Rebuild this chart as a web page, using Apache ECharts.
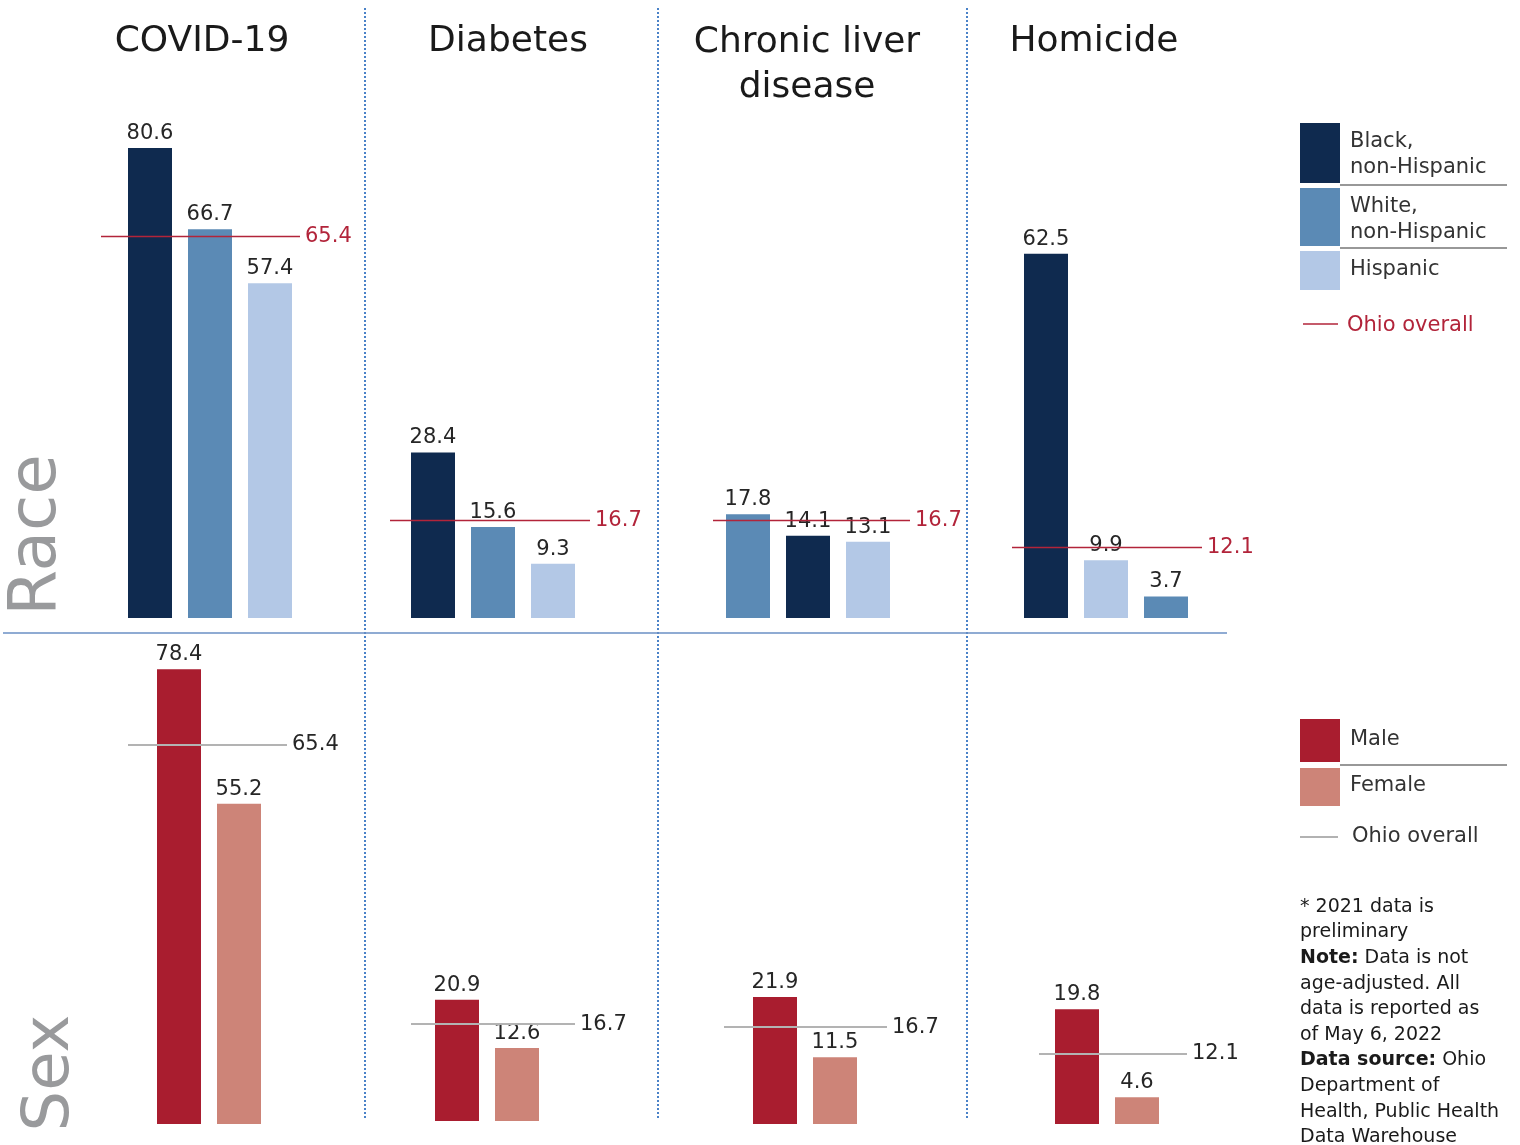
<!DOCTYPE html>
<html>
<head>
<meta charset="utf-8">
<script src="https://cdn.jsdelivr.net/npm/echarts@6/dist/echarts.min.js"></script>
<style>
html,body{margin:0;padding:0;background:#fff;}
#chart{width:1520px;height:1145px;}
</style>
</head>
<body>
<div id="chart"></div>
<script>
// ---------- DATA ----------
const causes = ['COVID-19', 'Diabetes', 'Chronic liver\ndisease', 'Homicide'];
const raceGroups = ['Black, non-Hispanic', 'White, non-Hispanic', 'Hispanic'];
const raceOrder = [
  ['Black, non-Hispanic', 'White, non-Hispanic', 'Hispanic'],
  ['Black, non-Hispanic', 'White, non-Hispanic', 'Hispanic'],
  ['White, non-Hispanic', 'Black, non-Hispanic', 'Hispanic'],
  ['Black, non-Hispanic', 'Hispanic', 'White, non-Hispanic']
];
const raceRates = [
  [80.6, 66.7, 57.4],
  [28.4, 15.6, 9.3],
  [17.8, 14.1, 13.1],
  [62.5, 9.9, 3.7]
];
const sexGroups = ['Male', 'Female'];
const sexRates = [
  [78.4, 55.2],
  [20.9, 12.6],
  [21.9, 11.5],
  [19.8, 4.6]
];
const ohioOverall = [65.4, 16.7, 16.7, 12.1];
const notesLines = [
  '* 2021 data is', 'preliminary',
  '{b|Note:} Data is not', 'age-adjusted. All', 'data is reported as', 'of May 6, 2022',
  '{b|Data source:} Ohio', 'Department of', 'Health, Public Health', 'Data Warehouse'
];

// ---------- STYLE / LAYOUT ----------
const FONT = 'DejaVu Sans';
const groupColor = {
  'Black, non-Hispanic': '#0f2a4f',
  'White, non-Hispanic': '#5b8ab5',
  'Hispanic': '#b3c8e6',
  'Male': '#a91d2f',
  'Female': '#cd8478'
};
const RED = '#b2243a';
const TXT = '#262626';
const STEP = 60;        // px between bar centres
const BARW = 44;
// first bar centre, overall line start/end (px)
const raceLayout = [
  {c: 150, l: 101, r: 300},
  {c: 433, l: 390, r: 590},
  {c: 748, l: 713, r: 910},
  {c: 1046, l: 1012, r: 1202}
];
const sexLayout = [
  {c: 179, l: 128, r: 287, base: 1124},
  {c: 457, l: 411, r: 575, base: 1121},
  {c: 775, l: 724, r: 887, base: 1124},
  {c: 1077, l: 1039, r: 1187, base: 1124}
];
const titlePos = [[202, 42], [508, 42], [807, 42], [1094, 42]];

const grids = [], xAxes = [], yAxes = [], series = [];
function addPanel(lay, top, height, groups, values, overall, lineColor, labelColor) {
  const gi = grids.length;
  grids.push({left: lay.l, top: top, width: lay.r - lay.l, height: height, containLabel: false});
  xAxes.push({type: 'value', gridIndex: gi, min: (lay.l - lay.c) / STEP, max: (lay.r - lay.c) / STEP, show: false});
  yAxes.push({type: 'value', gridIndex: gi, min: 0, max: 100, show: false});
  series.push({
    type: 'bar', xAxisIndex: gi, yAxisIndex: gi, barWidth: BARW,
    data: values.map((v, i) => ({value: [i, v], itemStyle: {color: groupColor[groups[i]]}})),
    label: {show: true, position: 'top', distance: 4, color: TXT, fontFamily: FONT, fontSize: 21,
      formatter: p => p.value[1].toFixed(1)},
    markLine: {
      silent: true, symbol: ['none', 'none'], animation: false,
      lineStyle: {color: lineColor, width: lineColor === RED ? 1.4 : 1.8, type: 'solid', opacity: 1},
      label: {position: 'end', distance: 5, color: labelColor, fontFamily: FONT, fontSize: 21,
        formatter: p => p.value.toFixed(1)},
      emphasis: {disabled: true},
      data: [{yAxis: overall}]
    }
  });
}
for (let k = 0; k < 4; k++) {
  addPanel(raceLayout[k], 618 - 583, 583, raceOrder[k], raceRates[k], ohioOverall[k], RED, RED);
  const s = sexLayout[k];
  addPanel(s, s.base - 580, 580, sexGroups, sexRates[k], ohioOverall[k], '#b3b3b3', TXT);
}

// ---------- GRAPHIC (titles, dividers, legend, notes) ----------
const graphic = [];
causes.forEach((c, k) => graphic.push({
  type: 'text', x: titlePos[k][0], y: titlePos[k][1],
  style: {text: c, font: '36px "' + FONT + '"', fill: '#1a1a1a', align: 'center', verticalAlign: 'middle', lineHeight: 45}
}));
graphic[2].style.verticalAlign = 'top';
graphic[2].y = 20;
[365, 658, 967].forEach(x => graphic.push({
  type: 'line', shape: {x1: x, y1: 8, x2: x, y2: 1120},
  style: {stroke: '#4a82c8', lineWidth: 2, lineDash: [2, 2]}
}));
graphic.push({type: 'line', shape: {x1: 3, y1: 633, x2: 1227, y2: 633}, style: {stroke: '#6a8fc4', lineWidth: 1.5}});
graphic.push({type: 'text', x: 38, y: 535, rotation: Math.PI / 2,
  style: {text: 'Race', font: '66px "' + FONT + '"', fill: '#999a9c', align: 'center', verticalAlign: 'middle'}});
graphic.push({type: 'text', x: 51, y: 1073, rotation: Math.PI / 2,
  style: {text: 'Sex', font: '64px "' + FONT + '"', fill: '#999a9c', align: 'center', verticalAlign: 'middle'}});

// race legend
const raceLegendBoxes = [[123, 60], [188, 58], [251, 39]];
const raceLegendText = ['Black,\nnon-Hispanic', 'White,\nnon-Hispanic', 'Hispanic'];
raceGroups.forEach((g, i) => {
  const [y, h] = raceLegendBoxes[i];
  graphic.push({type: 'rect', shape: {x: 1300, y: y, width: 40, height: h}, style: {fill: groupColor[g]}});
  graphic.push({type: 'text', x: 1350, y: y + 6, style: {text: raceLegendText[i], font: '21px "' + FONT + '"', fill: '#333', lineHeight: 26, verticalAlign: 'top'}});
});
[185, 248].forEach(y => graphic.push({type: 'line', shape: {x1: 1340, y1: y, x2: 1507, y2: y}, style: {stroke: '#333', lineWidth: 1.2}}));
graphic.push({type: 'line', shape: {x1: 1303, y1: 324, x2: 1338, y2: 324}, style: {stroke: RED, lineWidth: 1.4}});
graphic.push({type: 'text', x: 1347, y: 326, style: {text: 'Ohio overall', font: '21px "' + FONT + '"', fill: RED, verticalAlign: 'middle'}});

// sex legend
const sexLegendBoxes = [[719, 43], [768, 38]];
sexGroups.forEach((g, i) => {
  const [y, h] = sexLegendBoxes[i];
  graphic.push({type: 'rect', shape: {x: 1300, y: y, width: 40, height: h}, style: {fill: groupColor[g]}});
  graphic.push({type: 'text', x: 1350, y: y + (i === 0 ? 21 : 18), style: {text: g, font: '21px "' + FONT + '"', fill: '#333', verticalAlign: 'middle'}});
});
graphic.push({type: 'line', shape: {x1: 1340, y1: 765, x2: 1507, y2: 765}, style: {stroke: '#333', lineWidth: 1.2}});
graphic.push({type: 'line', shape: {x1: 1300, y1: 837, x2: 1338, y2: 837}, style: {stroke: '#999', lineWidth: 1.4}});
graphic.push({type: 'text', x: 1352, y: 837, style: {text: 'Ohio overall', font: '21px "' + FONT + '"', fill: '#333', verticalAlign: 'middle'}});

// notes
graphic.push({type: 'text', x: 1300, y: 894, style: {
  text: notesLines.join('\n'), font: '19px "' + FONT + '"', fill: '#1a1a1a', lineHeight: 25.6, verticalAlign: 'top',
  rich: {b: {fontWeight: 'bold', fontFamily: FONT, fontSize: 19, fill: '#1a1a1a', lineHeight: 25.6}}
}});

const chart = echarts.init(document.getElementById('chart'), null, {renderer: 'canvas'});
chart.setOption({
  animation: false,
  backgroundColor: '#fff',
  textStyle: {fontFamily: FONT},
  grid: grids, xAxis: xAxes, yAxis: yAxes, series: series,
  graphic: graphic
});
</script>
</body>
</html>
